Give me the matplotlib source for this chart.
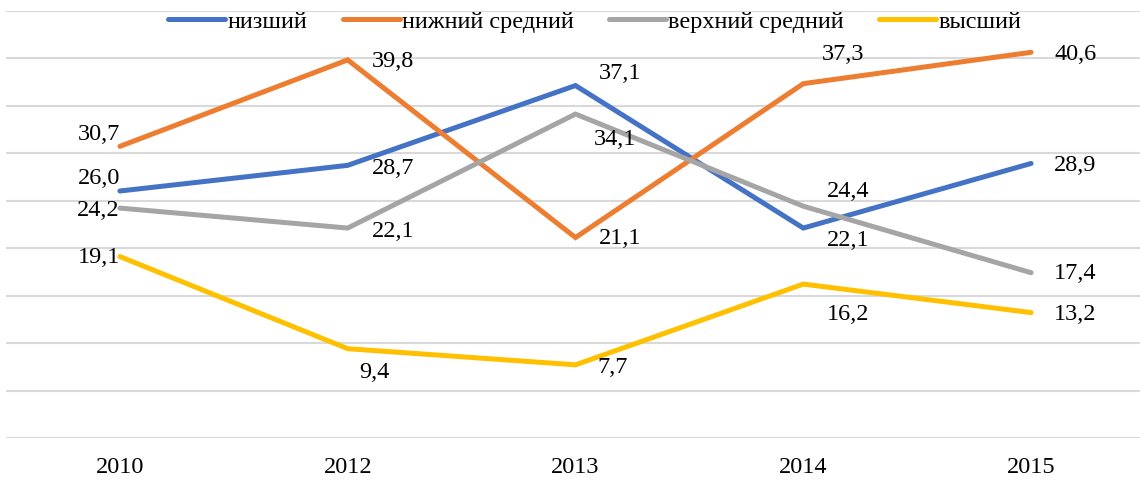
import matplotlib
matplotlib.use('Agg')
import matplotlib.pyplot as plt

plt.rcParams['font.family'] = ['Liberation Serif', 'DejaVu Serif']

years = ['2010', '2012', '2013', '2014', '2015']
series_names = ['низший', 'нижний средний', 'верхний средний', 'высший']
lowest = [26.0, 28.7, 37.1, 22.1, 28.9]
lower_middle = [30.7, 39.8, 21.1, 37.3, 40.6]
upper_middle = [24.2, 22.1, 34.1, 24.4, 17.4]
highest = [19.1, 9.4, 7.7, 16.2, 13.2]

colors = ['#4472C4', '#ED7D31', '#A5A5A5', '#FFC000']

# label offsets in pixels (dx, dy, ha) per series, per year
label_offsets = [
    [(0, 13, 'right'), (24, -3, 'left'), (23, 12, 'left'), (24, -12, 'left'), (23, -2, 'left')],
    [(0, 12, 'right'), (24, -2, 'left'), (23, -1, 'left'), (19, 29, 'left'), (23, -2, 'left')],
    [(0, -2, 'right'), (24, -3, 'left'), (18, -25, 'left'), (24, 15, 'left'), (23, -1, 'left')],
    [(0, -1, 'right'), (12, -24, 'left'), (22, -3, 'left'), (24, -30, 'left'), (23, -2, 'left')],
]

fig = plt.figure(figsize=(11.4, 4.8), dpi=100)
ax = fig.add_axes([6 / 1140, 42 / 480, 1139 / 1140, 427.5 / 480])

x = list(range(len(years)))
all_series = [lowest, lower_middle, upper_middle, highest]
for name, vals, col, offs in zip(series_names, all_series, colors, label_offsets):
    ax.plot(x, vals, color=col, lw=3.6, solid_capstyle='round',
            solid_joinstyle='miter', label=name, zorder=3)
    for xi, v, (dx, dy, ha) in zip(x, vals, offs):
        ax.annotate(f'{v:.1f}'.replace('.', ','), (xi, v),
                    xytext=(dx, dy), textcoords='offset pixels',
                    ha=ha, va='center', fontsize=17.5, color='black', zorder=4)

ax.set_xlim(-0.5, len(years) - 0.5)
ax.set_ylim(0, 45)
ax.set_yticks(range(0, 46, 5))
ax.set_yticklabels([])
ax.tick_params(axis='y', length=0)
ax.grid(axis='y', color='#D9D9D9', lw=1.5)
ax.set_axisbelow(True)
ax.set_xticks(x)
ax.set_xticklabels(years, fontsize=17.5)
ax.tick_params(axis='x', length=0, pad=14)
for s in ax.spines.values():
    s.set_visible(False)

leg = ax.legend(loc='upper center', bbox_to_anchor=(0.517, 1.022), ncol=4,
                frameon=False, fontsize=17.5, handlelength=2.35,
                handletextpad=0.1, columnspacing=1.44, borderaxespad=0)

fig.savefig('out.png', dpi=100)
